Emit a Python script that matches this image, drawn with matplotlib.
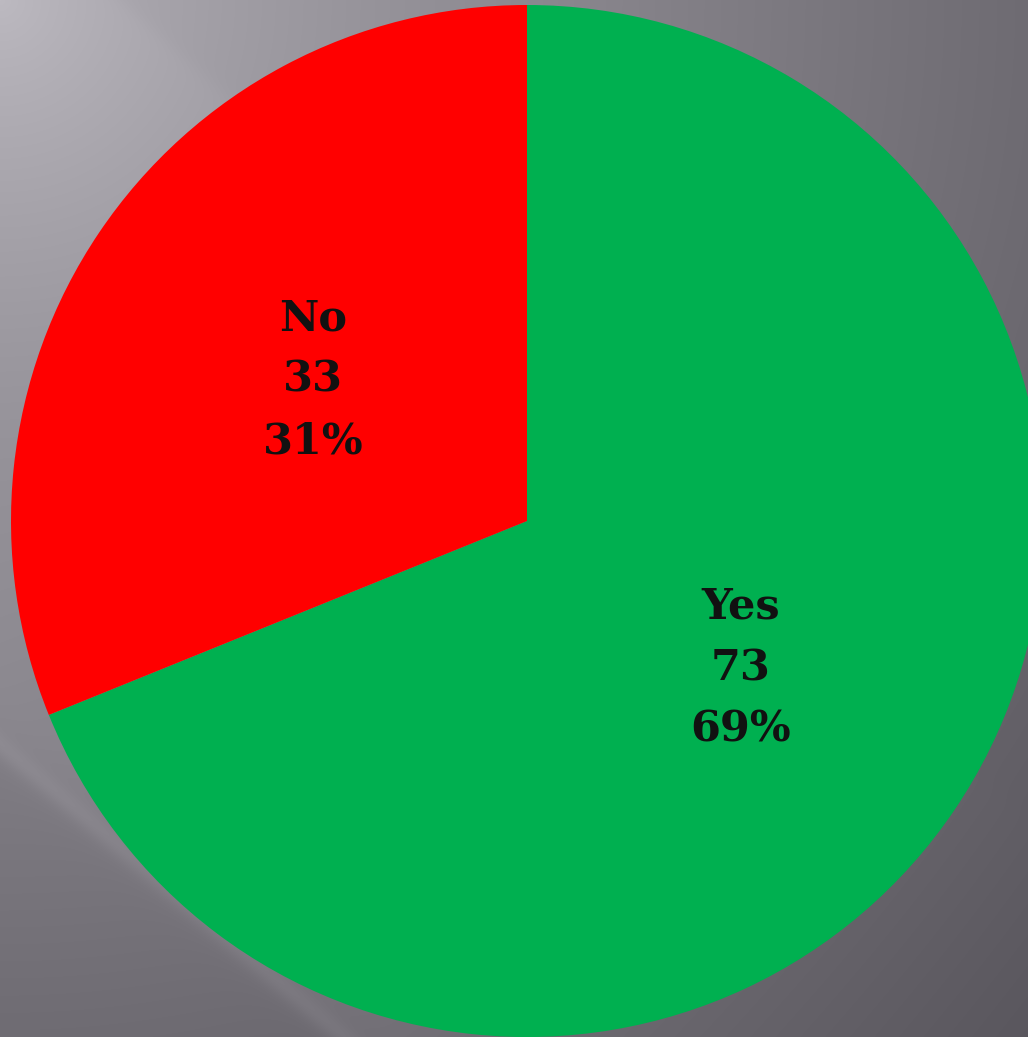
import numpy as np
import matplotlib
matplotlib.use("Agg")
import matplotlib.pyplot as plt

labels = ["Yes", "No"]
counts = [73, 33]
colors = ["#00B050", "#FF0000"]

W, H = 1028, 1037


def backdrop(ax):
    # soft grey slide background: bright in the upper-left corner, darker towards the lower right
    yy, xx = np.mgrid[0:H, 0:W].astype(float)
    d = np.hypot(xx, yy) / np.hypot(W, H)
    v = 182 - 95 * np.clip(d, 0, 1) ** 0.8
    # faint diagonal sheen streaks
    s1 = (yy - 0.85 * xx - 745) / 14.0
    fade = 1 / (1 + np.exp(-(yy - 500) / 60))
    v += 8 * np.exp(-s1 ** 2) + 10 * (1 / (1 + np.exp(s1))) * np.exp(-(xx + (750 - yy)) / 500) * fade
    s2 = (yy - 0.9 * (xx - 120)) / 6.0
    v += 7 * (1 / (1 + np.exp(-s2))) * np.exp(-d * 3)
    rgb = np.stack([v, v - 3, v + 4], axis=-1) / 255.0
    ax.imshow(np.clip(rgb, 0, 1), extent=(0, W, 0, H), origin="upper", zorder=0)


fig = plt.figure(figsize=(W / 100, H / 100), dpi=100)
ax = fig.add_axes([0, 0, 1, 1])
backdrop(ax)

wedges, _ = ax.pie(counts, colors=colors, startangle=90, counterclock=False,
                   center=(527, H - 521), radius=516, frame=True)
total = sum(counts)
for w, lab, n in zip(wedges, labels, counts):
    w.set_zorder(2)
    mid = np.deg2rad((w.theta1 + w.theta2) / 2)
    cx, cy = w.center
    x = cx + 0.5 * w.r * np.cos(mid)
    y = cy + 0.5 * w.r * np.sin(mid)
    ax.text(x, y - 3, f"{lab}\n{n}\n{100 * n / total:.0f}%", ha="center", va="center",
            fontsize=31, fontweight="bold", family="DejaVu Serif",
            color="#111111", linespacing=1.6, zorder=3)

ax.set_xlim(0, W)
ax.set_ylim(0, H)
ax.set_aspect("equal")
ax.axis("off")
fig.savefig("out.png", dpi=100)
